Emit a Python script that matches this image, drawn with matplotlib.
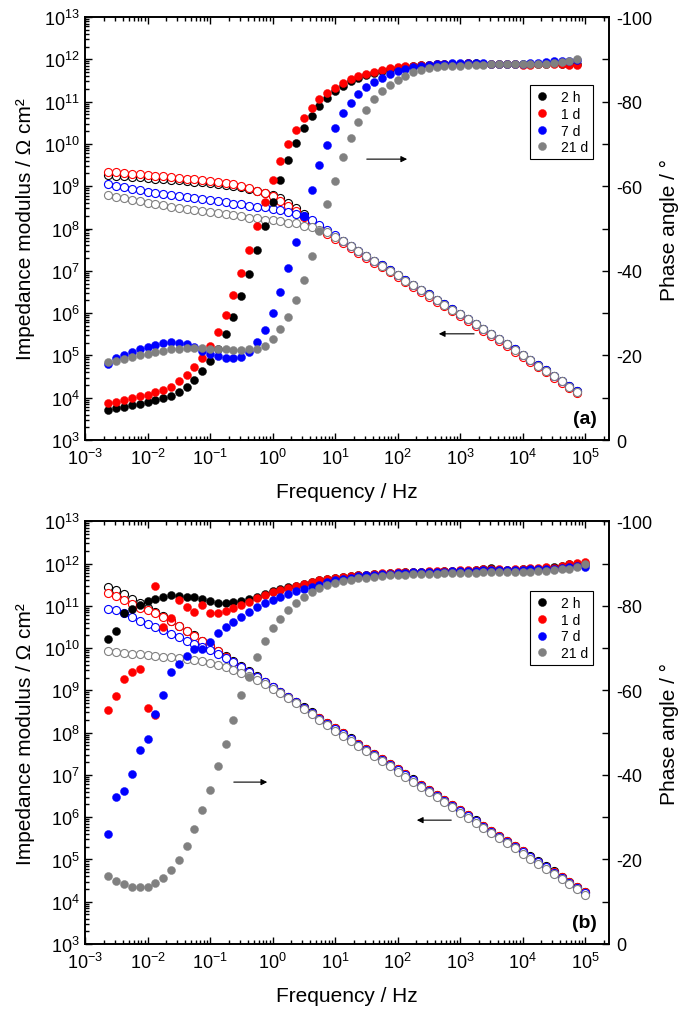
import matplotlib
matplotlib.use("Agg")
import matplotlib.pyplot as plt
from matplotlib.ticker import LogLocator, MultipleLocator, NullFormatter, LogFormatterSciNotation
import numpy as np

plt.rcParams['font.family'] = ['Liberation Sans', 'DejaVu Sans']
plt.rcParams['mathtext.fontset'] = 'custom'
plt.rcParams['mathtext.rm'] = 'Liberation Sans'
plt.rcParams['mathtext.it'] = 'Liberation Sans:italic'
plt.rcParams['mathtext.bf'] = 'Liberation Sans:bold'
plt.rcParams['axes.unicode_minus'] = False

# ---------------- data ----------------
freq = [0.002371, 0.003162, 0.004217, 0.005623, 0.007499,
        0.01, 0.01334, 0.01778, 0.02371, 0.03162, 0.04217, 0.05623, 0.07499,
        0.1, 0.1334, 0.1778, 0.2371, 0.3162, 0.4217, 0.5623, 0.7499,
        1, 1.334, 1.778, 2.371, 3.162, 4.217, 5.623, 7.499,
        10, 13.34, 17.78, 23.71, 31.62, 42.17, 56.23, 74.99,
        100, 133.4, 177.8, 237.1, 316.2, 421.7, 562.3, 749.9,
        1000, 1334, 1778, 2371, 3162, 4217, 5623, 7499,
        10000, 13340, 17780, 23710, 31620, 42170, 56230, 74990, 100000]
freq_a = freq[:61]
freq_b = freq

labels = ['2 h', '1 d', '7 d', '21 d']
colors = ['#000000', '#ff0000', '#0000ff', '#808080']

# Panel (a): log10 |Z| (Ohm cm2)
a_logZ_2h = [9.26, 9.25, 9.24, 9.22, 9.21, 9.20, 9.18, 9.17, 9.15, 9.14, 9.12, 9.10, 9.09, 9.07, 9.05, 9.03, 9.00, 8.97,
             8.93, 8.88, 8.83, 8.79, 8.71, 8.60, 8.48, 8.34, 8.18, 8.05,
             7.93, 7.81, 7.70, 7.59, 7.47, 7.36, 7.24, 7.13, 7.01, 6.90, 6.78, 6.67, 6.55, 6.44, 6.32, 6.21, 6.09, 5.98,
             5.86, 5.75, 5.63, 5.51, 5.39, 5.27, 5.14, 5.02, 4.89, 4.77, 4.65, 4.52, 4.40, 4.27, 4.15]
a_logZ_1d = [9.34, 9.33, 9.31, 9.30, 9.28, 9.27, 9.25, 9.24, 9.21, 9.20, 9.18, 9.16, 9.14, 9.12, 9.10, 9.08, 9.05, 9.01,
             8.96, 8.89, 8.83, 8.76, 8.66, 8.54, 8.42, 8.27, 8.12, 8.00,
             7.88, 7.76, 7.65, 7.54, 7.42, 7.31, 7.19, 7.08, 6.96, 6.85, 6.73, 6.62, 6.50, 6.39, 6.27, 6.16, 6.04, 5.93,
             5.81, 5.70, 5.58, 5.46, 5.34, 5.22, 5.09, 4.97, 4.84, 4.72, 4.60, 4.47, 4.35, 4.22, 4.10]
a_logZ_7d = [9.05, 9.01, 8.97, 8.93, 8.90, 8.87, 8.85, 8.82, 8.80, 8.76, 8.74, 8.71, 8.69, 8.67, 8.64, 8.62, 8.59, 8.57,
             8.54, 8.52, 8.50, 8.46, 8.43, 8.40, 8.35, 8.29, 8.20, 8.09, 7.97, 7.84, 7.71,
             7.59, 7.47, 7.36, 7.24, 7.13, 7.01, 6.90, 6.78, 6.67, 6.55, 6.44, 6.32, 6.21, 6.09, 5.98,
             5.86, 5.75, 5.63, 5.51, 5.39, 5.27, 5.14, 5.02, 4.89, 4.77, 4.65, 4.52, 4.40, 4.27, 4.15]
a_logZ_21d = [8.79, 8.75, 8.71, 8.67, 8.64, 8.61, 8.58, 8.55, 8.52, 8.49, 8.47, 8.44, 8.41, 8.39, 8.36, 8.34, 8.31, 8.29,
              8.26, 8.24, 8.21, 8.19, 8.17, 8.14, 8.12, 8.07, 8.03, 7.97, 7.91, 7.81, 7.70,
              7.58, 7.46, 7.35, 7.23, 7.12, 7.00, 6.89, 6.77, 6.66, 6.54, 6.43, 6.31, 6.20, 6.08, 5.98,
              5.85, 5.74, 5.62, 5.50, 5.38, 5.26, 5.13, 5.01, 4.88, 4.76, 4.64, 4.51, 4.39, 4.26, 4.14]

# Panel (a): phase angle (deg)
a_phase_2h = [-7.1, -7.5, -7.9, -8.2, -8.6, -9.0, -9.4, -9.9, -10.5, -11.4, -12.6, -14.3, -16.3, -18.7, -21.6, -25.0,
              -29.0, -34.0, -39.3, -44.8, -50.5, -56.2, -61.5, -66.2, -70.3, -73.7, -76.7, -78.9, -80.8,
              -82.4, -83.7, -84.8, -85.6, -86.2, -86.8, -87.3, -87.7, -88.0, -88.2, -88.4, -88.6, -88.7, -88.8, -88.9,
              -89.0, -89.0, -89.1, -89.1, -89.0, -89.0, -88.9, -88.9, -88.8, -88.8, -88.8, -88.9, -89.0, -89.1,
              -89.0, -88.9, -88.8]
a_phase_1d = [-8.7, -9.1, -9.5, -9.9, -10.3, -10.7, -11.3, -11.8, -12.6, -13.9, -15.4, -17.3, -19.5, -22.3, -25.6,
              -29.5, -34.3, -39.4, -45.0, -50.6, -56.3, -61.5, -66.0, -70.0, -73.4, -76.1, -78.4, -80.5, -82.0,
              -83.1, -84.4, -85.3, -86.0, -86.6, -87.1, -87.5, -87.9, -88.1, -88.3, -88.5, -88.6, -88.7, -88.8, -88.9,
              -89.0, -89.0, -89.1, -89.0, -89.0, -88.9, -88.9, -88.8, -88.8, -88.7, -88.7, -88.8, -88.9, -89.0,
              -88.8, -88.7, -88.6]
a_phase_7d = [-17.9, -19.4, -20.2, -20.9, -21.5, -22.0, -22.5, -22.9, -23.1, -23.0, -22.6, -21.9, -21.1, -20.4, -19.9,
              -19.5, -19.4, -19.6, -20.8, -23.1, -26.1, -30.0, -34.9, -40.6, -46.9, -53.0, -59.2, -65.0, -69.8,
              -73.8, -77.3, -79.7, -81.7, -83.4, -84.6, -85.6, -86.5, -87.2, -87.8, -88.2, -88.5, -88.7, -88.9, -89.0,
              -89.1, -89.2, -89.2, -89.1, -89.1, -89.0, -89.0, -89.0, -88.9, -89.0, -89.1, -89.2, -89.3, -89.5,
              -89.7, -89.5, -89.8]
a_phase_21d = [-18.5, -18.7, -19.2, -19.6, -20.0, -20.4, -20.8, -21.1, -21.4, -21.6, -21.7, -21.7, -21.7, -21.6, -21.5,
               -21.4, -21.3, -21.3, -21.4, -21.6, -22.3, -23.9, -26.2, -29.0, -33.2, -37.9, -43.4, -49.5, -55.9,
               -61.3, -66.8, -71.3, -75.1, -78.1, -80.5, -82.5, -84.0, -85.2, -86.1, -86.9, -87.5, -87.9, -88.1, -88.3,
               -88.4, -88.5, -88.6, -88.7, -88.7, -88.8, -88.8, -88.8, -88.8, -88.8, -88.9, -88.9, -89.0, -89.1,
               -89.3, -89.5, -90.1]

# Panel (b): log10 |Z| (Ohm cm2)
b_logZ_2h = [11.45, 11.38, 11.27, 11.16, 11.06, 10.96, 10.86, 10.75, 10.64, 10.53, 10.41, 10.30, 10.18, 10.06, 9.94,
             9.81, 9.69, 9.57, 9.45, 9.33, 9.21, 9.09, 8.97, 8.85, 8.73, 8.60, 8.48,
             8.35, 8.23, 8.11, 7.99, 7.87, 7.74, 7.62, 7.50, 7.38, 7.26, 7.14, 7.02, 6.90, 6.77, 6.65, 6.53, 6.41,
             6.29, 6.17, 6.05, 5.93, 5.80, 5.68, 5.56, 5.44, 5.32, 5.20, 5.08, 4.96, 4.84, 4.72, 4.59, 4.47, 4.35, 4.23]
b_logZ_1d = [11.30, 11.24, 11.13, 11.05, 10.96, 10.90, 10.82, 10.73, 10.63, 10.52, 10.40, 10.29, 10.17, 10.05, 9.93,
             9.80, 9.68, 9.56, 9.44, 9.32, 9.20, 9.08, 8.96, 8.84, 8.72, 8.59, 8.47,
             8.34, 8.22, 8.10, 7.98, 7.86, 7.73, 7.61, 7.49, 7.37, 7.25, 7.13, 7.01, 6.89, 6.76, 6.64, 6.52, 6.40,
             6.28, 6.16, 6.04, 5.92, 5.79, 5.67, 5.55, 5.43, 5.31, 5.19, 5.07, 4.95, 4.83, 4.71, 4.58, 4.46, 4.34, 4.22]
b_logZ_7d = [10.93, 10.90, 10.82, 10.73, 10.64, 10.58, 10.50, 10.42, 10.34, 10.26, 10.18, 10.10, 10.02, 9.95, 9.87,
             9.77, 9.66, 9.55, 9.44, 9.32, 9.20, 9.08, 8.96, 8.84, 8.72, 8.59, 8.47,
             8.32, 8.20, 8.08, 7.96, 7.84, 7.71, 7.59, 7.47, 7.35, 7.23, 7.11, 6.99, 6.87, 6.74, 6.62, 6.50, 6.38,
             6.26, 6.14, 6.02, 5.90, 5.77, 5.65, 5.53, 5.41, 5.29, 5.17, 5.05, 4.93, 4.81, 4.69, 4.56, 4.44, 4.32, 4.20]
b_logZ_21d = [9.92, 9.90, 9.89, 9.87, 9.85, 9.83, 9.82, 9.80, 9.78, 9.76, 9.74, 9.72, 9.69, 9.65, 9.61, 9.55, 9.49,
              9.42, 9.33, 9.24, 9.14, 9.04, 8.93, 8.82, 8.70, 8.57, 8.44, 8.30,
              8.17, 8.05, 7.93, 7.81, 7.68, 7.56, 7.44, 7.32, 7.20, 7.08, 6.96, 6.84, 6.71, 6.59, 6.47, 6.35, 6.23,
              6.11, 5.99, 5.87, 5.74, 5.62, 5.50, 5.38, 5.26, 5.14, 5.02, 4.90, 4.78, 4.66, 4.53, 4.41, 4.29, 4.17]

# Panel (b): phase angle (deg)
b_phase_2h = [-72.2, -74.0, -78.2, -79.3, -80.3, -81.1, -81.6, -82.2, -82.5, -82.4, -82.2, -82.0, -81.6, -81.1, -80.7,
              -80.6, -80.8, -81.1, -81.5, -82.2, -82.8, -83.4, -83.9, -84.4, -84.8, -85.2, -85.6, -86.0, -86.4,
              -86.6, -86.8, -87.0, -87.2, -87.3, -87.5, -87.6, -87.7, -87.8, -87.9, -88.0, -88.0, -88.1, -88.1, -88.2,
              -88.2, -88.3, -88.3, -88.4, -88.6, -88.9, -88.5, -88.4, -88.5, -88.6, -88.7, -88.8, -89.0, -89.2,
              -89.5, -89.8, -90.0, -89.8]
b_phase_1d = [-55.4, -58.7, -62.6, -64.4, -65.0, -55.8, -54.2, -75.1, -77.1, -81.4, -79.7, -78.6, -80.3, -78.2, -78.2,
              -78.8, -79.5, -80.2, -81.0, -81.8, -82.6, -83.2, -83.8, -84.3, -84.8, -85.2, -85.6, -86.0, -86.4,
              -86.7, -86.9, -87.1, -87.2, -87.4, -87.5, -87.7, -87.8, -87.9, -88.0, -88.0, -88.1, -88.2, -88.2, -88.3,
              -88.3, -88.4, -88.4, -88.5, -88.6, -88.7, -88.6, -88.5, -88.6, -88.7, -88.9, -89.0, -89.2, -89.0,
              -89.4, -89.8, -90.2, -90.3]
b_phase_7d = [-26.0, -34.7, -36.1, -40.1, -45.8, -48.6, -54.3, -59.0, -64.3, -66.3, -68.2, -69.9, -69.9, -71.5, -73.6,
              -74.9, -76.1, -77.3, -78.5, -79.7, -80.6, -81.4, -82.2, -82.8, -83.4, -84.0, -84.5, -85.0, -85.6,
              -86.0, -86.4, -86.7, -87.0, -87.2, -87.4, -87.5, -87.6, -87.7, -87.8, -87.9, -88.0, -88.0, -88.1, -88.1,
              -88.2, -88.2, -88.3, -88.3, -88.4, -88.4, -88.4, -88.5, -88.5, -88.5, -88.6, -88.6, -88.7, -88.7,
              -88.9, -89.1, -89.4, -89.3]
b_phase_21d = [-16.2, -15.0, -14.2, -13.4, -13.4, -13.6, -14.4, -15.6, -17.5, -19.9, -23.2, -27.1, -31.6, -36.4, -42.0,
               -47.3, -53.0, -58.8, -63.2, -67.8, -71.8, -74.7, -76.9, -78.9, -80.6, -82.0, -83.2, -84.2, -85.0,
               -85.5, -85.9, -86.2, -86.5, -86.7, -86.9, -87.1, -87.2, -87.3, -87.4, -87.5, -87.5, -87.6, -87.6, -87.7,
               -87.7, -87.8, -87.8, -87.8, -87.9, -87.9, -88.0, -88.0, -88.0, -88.1, -88.1, -88.2, -88.3, -88.4,
               -88.6, -88.8, -89.3, -89.9]
# extra repeated 1 d reading near 0.0133 Hz in panel (b)
b_extra_freq_1d = [0.01334]
b_extra_phase_1d = [-84.6]

panels = [
    dict(freq=freq_a, logZ=[a_logZ_2h, a_logZ_1d, a_logZ_7d, a_logZ_21d],
         phase=[a_phase_2h, a_phase_1d, a_phase_7d, a_phase_21d], tag='(a)',
         arrows=[((29.1, 10 ** 9.64), (158, 10 ** 9.64)), ((1862, 10 ** 5.51), (413, 10 ** 5.51))]),
    dict(freq=freq_b, logZ=[b_logZ_2h, b_logZ_1d, b_logZ_7d, b_logZ_21d],
         phase=[b_phase_2h, b_phase_1d, b_phase_7d, b_phase_21d], tag='(b)',
         arrows=[((0.217, 10 ** 6.83), (0.912, 10 ** 6.83)), ((802, 10 ** 5.93), (184, 10 ** 5.93))]),
]

W, H = 679, 1012
fig = plt.figure(figsize=(W / 100, H / 100), dpi=100)
L, R = 85 / W, 609 / W
rects = [(L, (H - 441) / H, R - L, 423 / H), (L, (H - 945) / H, R - L, 422.7 / H)]

TICK_FS = 13
LAB_FS = 15
ms = 5.8

for p, rect in zip(panels, rects):
    ax = fig.add_axes(rect)
    ax2 = ax.twinx()
    f = p['freq']
    for lz, c in zip(p['logZ'], colors):
        ax.plot(f, [10 ** v for v in lz], 'o', ls='none', ms=ms, mfc='white', mec=c, mew=0.8)
    handles = []
    for ph, c, lab in zip(p['phase'], colors, labels):
        h, = ax2.plot(f, ph, 'o', ls='none', ms=ms, mfc=c, mec=c, mew=0.3, label=lab)
        handles.append(h)
        if p['tag'] == '(b)' and c == '#ff0000':
            ax2.plot(b_extra_freq_1d, b_extra_phase_1d, 'o', ls='none', ms=ms, mfc=c, mec=c, mew=0.3)

    ax.set_xscale('log')
    ax.set_yscale('log')
    ax.set_xlim(1e-3, 2.42e5)
    ax.set_ylim(1e3, 1e13)
    ax2.set_ylim(0, -100)

    ax.xaxis.set_major_locator(LogLocator(base=10, numticks=20))
    ax.xaxis.set_minor_locator(LogLocator(base=10, subs=np.arange(2, 10), numticks=20))
    ax.xaxis.set_minor_formatter(NullFormatter())
    ax.xaxis.set_major_formatter(LogFormatterSciNotation())
    ax.yaxis.set_major_locator(LogLocator(base=10, numticks=20))
    ax.yaxis.set_minor_locator(LogLocator(base=10, subs=np.arange(2, 10), numticks=20))
    ax.yaxis.set_minor_formatter(NullFormatter())
    ax2.yaxis.set_major_locator(MultipleLocator(20))
    ax2.yaxis.set_minor_locator(MultipleLocator(10))

    ax.tick_params(which='both', direction='in', top=True, right=False, labelsize=TICK_FS, width=1.0)
    ax.tick_params(which='major', length=5)
    ax.tick_params(which='minor', length=3)
    ax.tick_params(axis='x', which='major', pad=6)
    ax.tick_params(axis='y', which='major', pad=4)
    ax2.tick_params(which='both', direction='in', labelsize=TICK_FS, width=1.0, length=5, pad=5)
    for a in (ax, ax2):
        for s in a.spines.values():
            s.set_linewidth(1.2)

    ax.set_xlabel('Frequency / Hz', fontsize=LAB_FS, labelpad=10)
    ax.set_ylabel('Impedance modulus / Ω cm²', fontsize=LAB_FS, labelpad=6)
    ax2.set_ylabel('Phase angle / °', fontsize=LAB_FS, labelpad=6)

    leg = ax2.legend(handles=handles, loc='upper right', bbox_to_anchor=(0.9695, 0.839 if p['tag'] == '(a)' else 0.835),
                     fontsize=10, frameon=True, fancybox=False, edgecolor='black', framealpha=1,
                     handlelength=1.0, handletextpad=0.9, labelspacing=0.2, borderpad=0.35, borderaxespad=0)
    leg.get_frame().set_linewidth(0.8)

    ax2.text(0.954, 0.05, p['tag'], transform=ax2.transAxes, ha='center', va='center',
             fontsize=14, fontweight='bold')
    for (x0, y0), (x1, y1) in p['arrows']:
        ax.annotate('', xy=(x1, y1), xytext=(x0, y0),
                    arrowprops=dict(arrowstyle='-|>', color='black', lw=0.8, mutation_scale=9))

fig.savefig('out.png', dpi=100)
